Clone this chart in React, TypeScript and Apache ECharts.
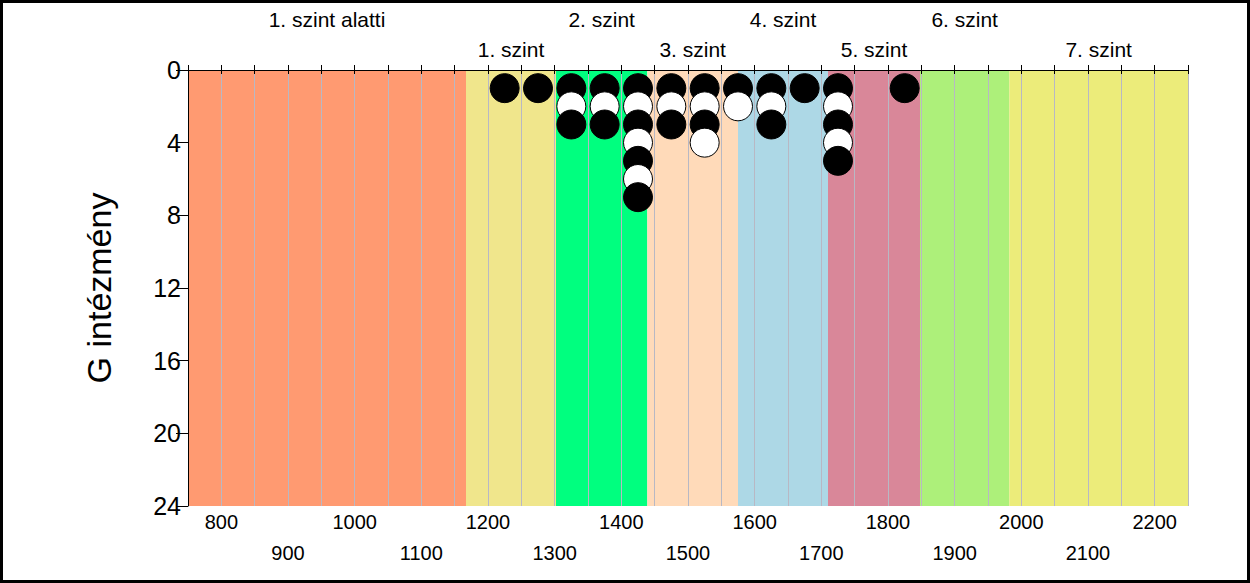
import React, { useEffect, useRef } from "react";
import * as echarts from "echarts";

// Level bands (score ranges) and their labels
const bandEdges = [750, 1167, 1302, 1439, 1575, 1710, 1848, 1982, 2250];
const bandNames = [
  "1. szint alatti",
  "1. szint",
  "2. szint",
  "3. szint",
  "4. szint",
  "5. szint",
  "6. szint",
  "7. szint",
];
const bandColors = [
  "#FF9A71",
  "#F0E68C",
  "#00FF7F",
  "#FFDAB9",
  "#ADD8E6",
  "#D98799",
  "#ADF07A",
  "#ECEC7A",
];

// Dot columns (score bin centres) and number of institutions in each
const dotColumns = [1225, 1275, 1325, 1375, 1425, 1475, 1525, 1575, 1625, 1675, 1725, 1825];
const dotCounts = [1, 1, 3, 3, 7, 3, 4, 2, 3, 1, 5, 1];

const yTicks = [0, 4, 8, 12, 16, 20, 24];

const FONT = "Arial, 'Liberation Sans', sans-serif";

export default function App() {
  const ref = useRef<HTMLDivElement>(null);

  useEffect(() => {
    if (!ref.current) return;
    const chart = echarts.init(ref.current, null, { renderer: "svg" });

    const dots: any[] = [];
    dotColumns.forEach((x, i) => {
      for (let k = 1; k <= dotCounts[i]; k++) {
        dots.push({
          value: [x, k],
          itemStyle: {
            color: k % 2 === 1 ? "#000000" : "#FFFFFF",
            borderColor: "#000000",
            borderWidth: 1,
            opacity: 1,
          },
        });
      }
    });

    const areas = bandNames.map((name, i) => [
      {
        name,
        xAxis: bandEdges[i],
        itemStyle: { color: bandColors[i], opacity: 1 },
        label: {
          show: true,
          position: "top",
          distance: i % 2 === 0 ? 40 : 10,
          color: "#000",
          fontSize: 21,
          fontFamily: FONT,
        },
      },
      { xAxis: bandEdges[i + 1] },
    ]);

    const axisCommon = {
      type: "value",
      min: bandEdges[0],
      max: bandEdges[bandEdges.length - 1],
      interval: 50,
    };

    chart.setOption({
      animation: false,
      backgroundColor: "#ffffff",
      grid: { left: 188, right: 62, top: 70, bottom: 77, containLabel: false },
      graphic: [
        {
          type: "rect",
          shape: { x: 1.5, y: 1.5, width: 1247, height: 580 },
          style: { fill: "none", stroke: "#000", lineWidth: 3 },
          z: 100,
          silent: true,
        },
      ],
      xAxis: [
        {
          ...axisCommon,
          position: "bottom",
          z: 3,
          axisLine: { show: true, lineStyle: { color: "#000", width: 1 } },
          axisTick: { show: true, length: 4, lineStyle: { color: "#000" } },
          splitLine: { show: true, lineStyle: { color: "#B8B8C4", width: 1 } },
          axisLabel: {
            show: true,
            margin: 0,
            color: "#000",
            fontSize: 20,
            fontFamily: FONT,
            lineHeight: 31,
            formatter: (v: number) => {
              if (v % 100 !== 0) return "";
              return (v / 100) % 2 === 0 ? String(v) : "\n" + v;
            },
          },
        },
        {
          ...axisCommon,
          position: "top",
          z: 3,
          axisLine: { show: true, lineStyle: { color: "#000", width: 1 } },
          axisTick: { show: true, length: 5, lineStyle: { color: "#000" } },
          splitLine: { show: false },
          axisLabel: { show: false },
        },
      ],
      yAxis: {
        type: "value",
        inverse: true,
        min: yTicks[0],
        max: yTicks[yTicks.length - 1],
        interval: 4,
        z: 3,
        name: "G intézmény",
        nameLocation: "middle",
        nameGap: 72,
        nameTextStyle: { color: "#000", fontSize: 34, fontFamily: FONT },
        axisLine: { show: true, lineStyle: { color: "#000", width: 1 } },
        axisTick: { show: true, length: 12, lineStyle: { color: "#000" } },
        splitLine: { show: false },
        axisLabel: { color: "#000", fontSize: 25, fontFamily: FONT, margin: 7 },
      },
      series: [
        {
          type: "line",
          data: [],
          z: 1,
          silent: true,
          markArea: { silent: true, data: areas },
        },
        {
          type: "scatter",
          z: 5,
          symbol: "circle",
          symbolSize: 29,
          itemStyle: { opacity: 1 },
          data: dots,
          silent: true,
        },
      ],
    });

    return () => chart.dispose();
  }, []);

  return (
    <div
      ref={ref}
      style={{ position: "fixed", left: 0, top: 0, width: 1250, height: 583 }}
    />
  );
}
